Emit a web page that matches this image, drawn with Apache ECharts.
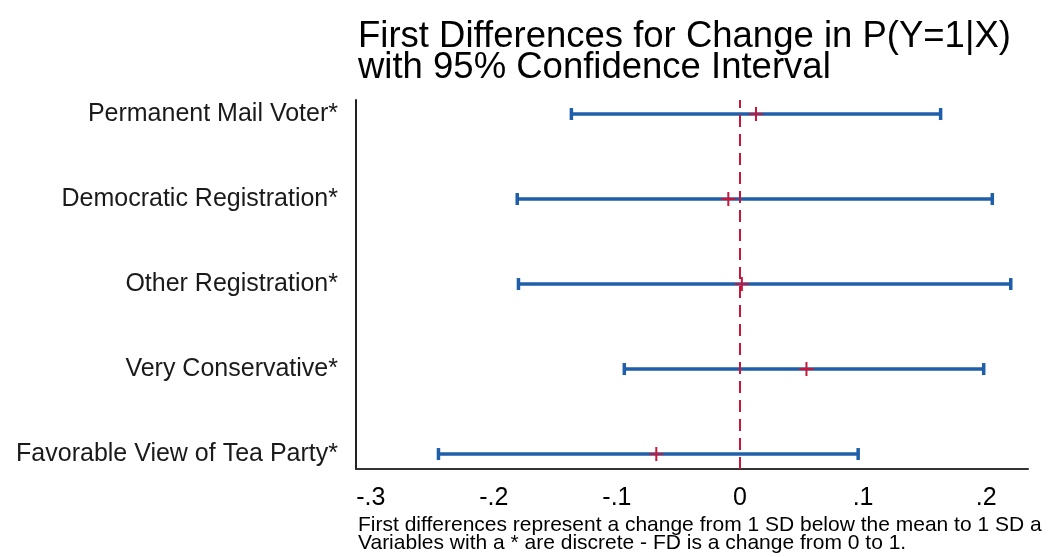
<!DOCTYPE html>
<html>
<head>
<meta charset="utf-8">
<script src="https://cdn.jsdelivr.net/npm/echarts@6/dist/echarts.min.js"></script>
<style>
html,body{margin:0;padding:0;background:#fff;}
#main{width:1056px;height:557px;}
</style>
</head>
<body>
<div id="main"></div>
<script>
// Data (bottom to top)
const categories = ['Favorable View of Tea Party*', 'Very Conservative*', 'Other Registration*', 'Democratic Registration*', 'Permanent Mail Voter*'];
const estimates = [-0.068, 0.054, 0.0015, -0.0095, 0.013];
const lowerCI = [-0.245, -0.094, -0.180, -0.181, -0.137];
const upperCI = [0.096, 0.198, 0.220, 0.205, 0.163];
const xTickValues = [-0.3, -0.2, -0.1, 0, 0.1, 0.2];
const xTickLabels = ['-.3', '-.2', '-.1', '0', '.1', '.2'];
const titleLines = ['First Differences for Change in P(Y=1|X)', 'with 95% Confidence Interval'];
const noteLines = ['First differences represent a change from 1 SD below the mean to 1 SD a', 'Variables with a * are discrete - FD is a change from 0 to 1.'];

const FONT = '"Liberation Sans", Arial, sans-serif';
const BLUE = '#1f5fa9';
const RED = '#c8163a';

const rowPos = categories.map((c, i) => i + 1);
const ciData = rowPos.map((p, i) => [lowerCI[i], upperCI[i], p]);
const ptData = rowPos.map((p, i) => [estimates[i], p]);

const chart = echarts.init(document.getElementById('main'), null, {renderer: 'canvas'});
chart.setOption({
  animation: false,
  backgroundColor: '#fff',
  title: {
    text: titleLines.join('\n'),
    left: 353,
    top: 16,
    textStyle: {fontFamily: FONT, fontSize: 36.5, fontWeight: 'normal', color: '#000', lineHeight: 31}
  },
  graphic: [{
    type: 'text',
    left: 358,
    top: 515,
    style: {text: noteLines.join('\n'), font: '21px ' + FONT, fill: '#000', lineHeight: 18}
  }],
  grid: {left: 356, right: 28, top: 100, bottom: 88, containLabel: false},
  xAxis: {
    type: 'value',
    min: -0.312,
    max: 0.234,
    axisLine: {show: true, onZero: false, lineStyle: {color: '#333', width: 2}},
    axisTick: {show: false},
    splitLine: {show: false},
    axisLabel: {
      customValues: xTickValues,
      formatter: v => { const i = xTickValues.findIndex(t => Math.abs(t - v) < 1e-9); return i >= 0 ? xTickLabels[i] : ''; },
      fontFamily: FONT, fontSize: 25, color: '#000', margin: 17
    }
  },
  yAxis: {
    type: 'value',
    min: 0.824,
    max: 5.165,
    axisLine: {show: true, onZero: false, lineStyle: {color: '#222', width: 2}},
    axisTick: {show: false},
    splitLine: {show: false},
    axisLabel: {
      customValues: rowPos,
      formatter: v => categories[Math.round(v) - 1] || '',
      fontFamily: FONT, fontSize: 25, color: '#1a1a1a', margin: 18
    }
  },
  series: [
    {
      type: 'custom',
      name: 'CI',
      data: ciData,
      encode: {x: [0, 1], y: 2},
      z: 3,
      renderItem: function (params, api) {
        const a = api.coord([api.value(0), api.value(2)]);
        const b = api.coord([api.value(1), api.value(2)]);
        const h = 6;
        const st = {stroke: BLUE, lineWidth: 3.5};
        return {
          type: 'group',
          children: [
            {type: 'line', shape: {x1: a[0], y1: a[1], x2: b[0], y2: b[1]}, style: st},
            {type: 'line', shape: {x1: a[0], y1: a[1] - h, x2: a[0], y2: a[1] + h}, style: st},
            {type: 'line', shape: {x1: b[0], y1: b[1] - h, x2: b[0], y2: b[1] + h}, style: st}
          ]
        };
      },
      markLine: {
        silent: true,
        symbol: 'none',
        label: {show: false},
        lineStyle: {color: RED, type: [12, 7], width: 2},
        data: [{xAxis: 0}]
      }
    },
    {
      type: 'custom',
      name: 'Estimate',
      data: ptData,
      encode: {x: 0, y: 1},
      z: 5,
      renderItem: function (params, api) {
        const c = api.coord([api.value(0), api.value(1)]);
        const w = 7, h = 7;
        const st = {stroke: RED, lineWidth: 2};
        return {
          type: 'group',
          children: [
            {type: 'line', shape: {x1: c[0] - w, y1: c[1], x2: c[0] + w, y2: c[1]}, style: st},
            {type: 'line', shape: {x1: c[0], y1: c[1] - h, x2: c[0], y2: c[1] + h}, style: st}
          ]
        };
      }
    }
  ]
});
</script>
</body>
</html>
